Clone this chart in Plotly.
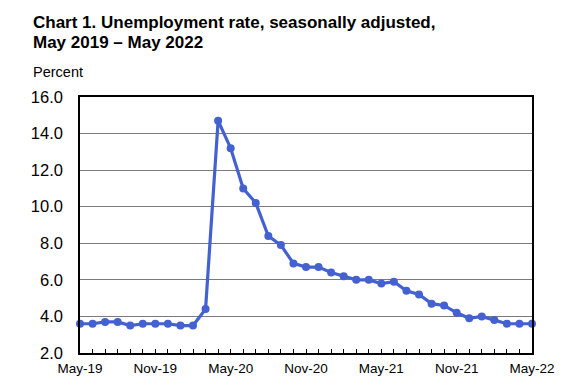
import plotly.graph_objects as go

months = ["May-19","Jun-19","Jul-19","Aug-19","Sep-19","Oct-19","Nov-19","Dec-19",
          "Jan-20","Feb-20","Mar-20","Apr-20","May-20","Jun-20","Jul-20","Aug-20","Sep-20","Oct-20","Nov-20","Dec-20",
          "Jan-21","Feb-21","Mar-21","Apr-21","May-21","Jun-21","Jul-21","Aug-21","Sep-21","Oct-21","Nov-21","Dec-21",
          "Jan-22","Feb-22","Mar-22","Apr-22","May-22"]
rate = [3.6,3.6,3.7,3.7,3.5,3.6,3.6,3.6,
        3.5,3.5,4.4,14.7,13.2,11.0,10.2,8.4,7.9,6.9,6.7,6.7,
        6.4,6.2,6.0,6.0,5.8,5.9,5.4,5.2,4.7,4.6,4.2,3.9,
        4.0,3.8,3.6,3.6,3.6]
tick_labels = ["May-19","Nov-19","May-20","Nov-20","May-21","Nov-21","May-22"]
y_ticks = [2,4,6,8,10,12,14,16]

idx = list(range(len(months)))
tick_idx = [months.index(t) for t in tick_labels]

FONT = "Liberation Sans, Arial, sans-serif"
W, H = 567, 388
L, R, T, B = 80, 28, 97, 34
ph = H - T - B

def py(px):
    return 1 + (T - px) / ph

def px_x(px):
    return (px - L) / (W - L - R)

fig = go.Figure()
fig.add_trace(go.Scatter(
    x=idx, y=rate, mode="lines+markers",
    line=dict(color="#4461d2", width=3.2),
    marker=dict(color="#4461d2", size=8),
    cliponaxis=False, hoverinfo="skip",
))

fig.update_layout(
    width=W, height=H,
    margin=dict(l=L, r=R, t=T, b=B),
    paper_bgcolor="white", plot_bgcolor="white",
    showlegend=False,
    font=dict(family=FONT, color="black"),
    xaxis=dict(
        range=[0, len(months) - 1],
        tickmode="array", tickvals=tick_idx, ticktext=tick_labels,
        ticks="inside", ticklen=4, tickcolor="black", tickwidth=1,
        minor=dict(tickmode="linear", tick0=0, dtick=1, ticks="inside", ticklen=4, tickcolor="black", tickwidth=1, showgrid=False),
        showgrid=False, showline=True, linecolor="black", linewidth=1.5, mirror=True,
        tickfont=dict(size=13.5, family=FONT, color="black"),
        ticklabelstandoff=2,
        zeroline=False,
    ),
    yaxis=dict(
        range=[2, 16], tickmode="array", tickvals=y_ticks,
        ticktext=[f"{v:.1f}" for v in y_ticks],
        showgrid=True, gridcolor="#7a7a7a", gridwidth=1,
        showline=True, linecolor="black", linewidth=1.5, mirror=True,
        ticks="", tickfont=dict(size=16.5, family=FONT, color="black"),
        ticklabelstandoff=12,
        zeroline=False,
    ),
)

fig.add_annotation(text="<b>Chart 1. Unemployment rate, seasonally adjusted,</b>",
                   xref="paper", yref="paper", x=px_x(30), y=py(22), xanchor="left", yanchor="middle",
                   showarrow=False, font=dict(size=17, family=FONT, color="black"))
fig.add_annotation(text="<b>May 2019 – May 2022</b>",
                   xref="paper", yref="paper", x=px_x(30), y=py(42), xanchor="left", yanchor="middle",
                   showarrow=False, font=dict(size=17, family=FONT, color="black"))
fig.add_annotation(text="Percent",
                   xref="paper", yref="paper", x=px_x(30), y=py(72), xanchor="left", yanchor="middle",
                   showarrow=False, font=dict(size=14.5, family=FONT, color="black"))

fig.write_html("out.html", config={"displayModeBar": False},
               post_script="document.body.style.margin='0';document.body.style.padding='0';")
